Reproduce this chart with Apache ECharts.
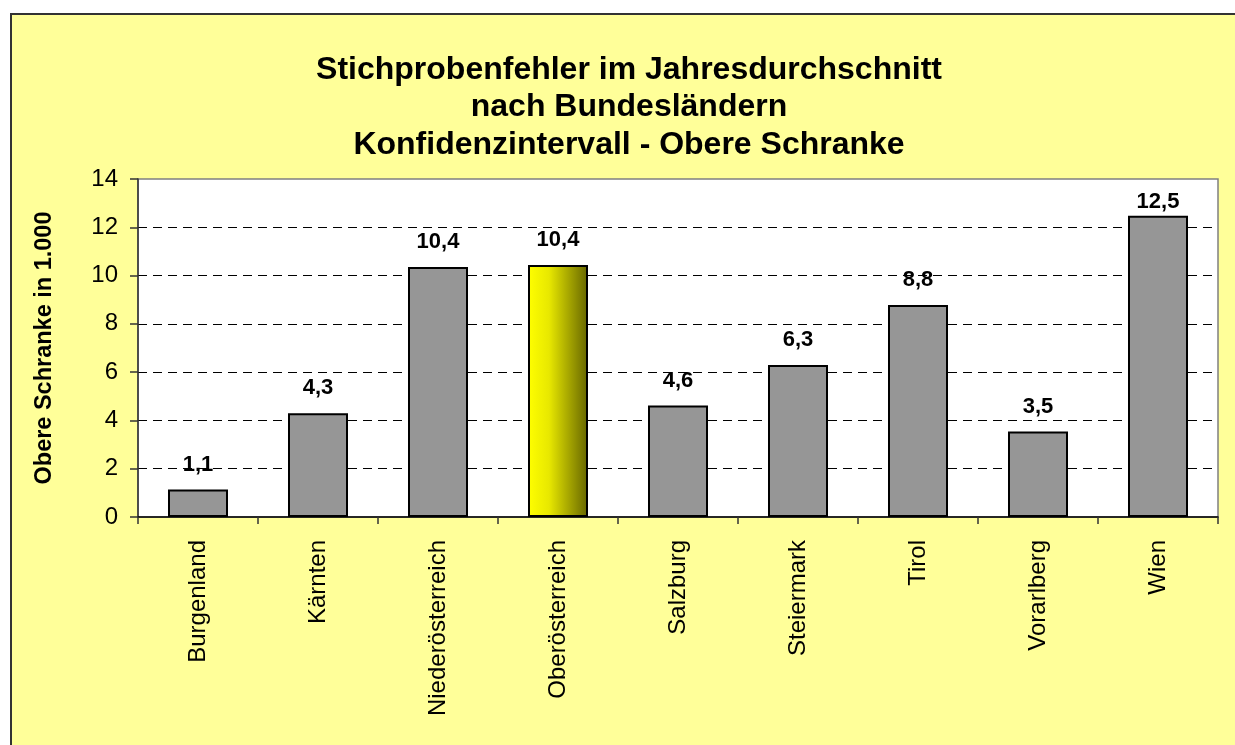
<!DOCTYPE html>
<html>
<head>
<meta charset="utf-8">
<script src="https://cdn.jsdelivr.net/npm/echarts@6/dist/echarts.min.js"></script>
<style>
  html, body { margin: 0; padding: 0; background: #fff; overflow: hidden; }
  #frame { position: absolute; left: 10px; top: 13px; width: 1300px; height: 800px; border: 2px solid #333; background: #FFFF99; }
  #chart { position: absolute; left: 0; top: 0; width: 1235px; height: 745px; }
</style>
</head>
<body>
<div id="frame"></div>
<div id="chart"></div>
<script>
  // Daten
  const laender = ['Burgenland', 'Kärnten', 'Niederösterreich', 'Oberösterreich', 'Salzburg', 'Steiermark', 'Tirol', 'Vorarlberg', 'Wien'];
  const obereSchranke = [1.14, 4.3, 10.36, 10.44, 4.62, 6.3, 8.78, 3.54, 12.48];
  const hervorgehoben = 'Oberösterreich';
  const yTicks = { min: 0, max: 14, interval: 2 };

  const font = 'Arial, "Liberation Sans", sans-serif';

  const chart = echarts.init(document.getElementById('chart'));

  const barData = obereSchranke.map(function (v, i) {
    const item = { value: v };
    if (laender[i] === hervorgehoben) {
      item.itemStyle = {
        color: new echarts.graphic.LinearGradient(0, 0, 1, 0, [
          { offset: 0, color: '#ffff00' },
          { offset: 0.35, color: '#e8e800' },
          { offset: 1, color: '#666600' }
        ])
      };
    }
    // Beschriftung oben am Diagrammrand eingeklemmt
    if (v > 12) item.label = { distance: 3 };
    return item;
  });

  const option = {
    backgroundColor: 'transparent',
    animation: false,
    title: {
      text: 'Stichprobenfehler im Jahresdurchschnitt\nnach Bundesländern\nKonfidenzintervall - Obere Schranke',
      left: 624,
      top: 46,
      textAlign: 'center',
      textStyle: {
        fontFamily: font,
        fontSize: 32,
        fontWeight: 'bold',
        color: '#000',
        lineHeight: 37.5
      }
    },
    grid: {
      left: 138,
      top: 179,
      right: 17,
      bottom: 228,
      show: true,
      backgroundColor: '#fff',
      borderColor: '#808080',
      borderWidth: 1.5
    },
    xAxis: {
      type: 'category',
      data: laender,
      axisLine: { lineStyle: { color: '#000', width: 1.5 } },
      axisTick: { show: true, length: 7, lineStyle: { color: '#333', width: 1.5 } },
      axisLabel: {
        rotate: 90,
        margin: 23,
        fontFamily: font,
        fontSize: 24,
        color: '#000'
      }
    },
    yAxis: {
      type: 'value',
      min: yTicks.min,
      max: yTicks.max,
      interval: yTicks.interval,
      name: 'Obere Schranke in 1.000',
      nameLocation: 'middle',
      nameGap: 81,
      nameTextStyle: { fontFamily: font, fontSize: 23.5, fontWeight: 'bold', color: '#000' },
      axisLine: { show: true, lineStyle: { color: '#333', width: 1.5 } },
      axisTick: { show: true, length: 8, lineStyle: { color: '#333', width: 1.5 } },
      axisLabel: { margin: 20, fontFamily: font, fontSize: 24, color: '#000' },
      splitLine: {
        show: true,
        showMinLine: false,
        showMaxLine: false,
        lineStyle: { color: '#000', width: 1, type: [9, 6] }
      }
    },
    series: [
      {
        type: 'bar',
        data: barData,
        barWidth: '50%',
        itemStyle: { color: '#969696', borderColor: '#000', borderWidth: 2 },
        label: {
          show: true,
          position: 'top',
          distance: 14,
          fontFamily: font,
          fontSize: 22,
          fontWeight: 'bold',
          color: '#000',
          formatter: function (p) {
            return p.value.toFixed(1).replace('.', ',');
          }
        }
      }
    ]
  };

  chart.setOption(option);
</script>
</body>
</html>
